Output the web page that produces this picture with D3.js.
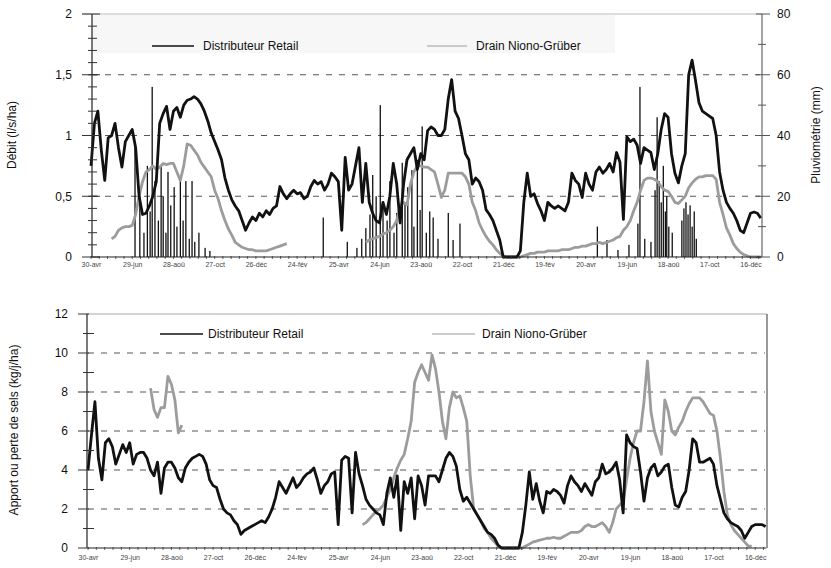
<!DOCTYPE html>
<html>
<head>
<meta charset="utf-8">
<script src="https://cdn.jsdelivr.net/npm/d3@7"></script>
<style>
  body { margin: 0; background: #fff; }
  svg { font-family: "Liberation Sans", Arial, sans-serif; }
</style>
</head>
<body>
<svg id="chart" width="831" height="568"></svg>
<script>
// Sampling step of all series, in days from 30 April (first season)
const STEP = 5;
const TOTAL_DAYS = 976;

// Date labels of the x axis, one every 60 days
const tickLabels = ["30-avr","29-jun","28-aoû","27-oct","26-déc","24-fév","25-avr","24-jun",
  "23-aoû","22-oct","21-déc","19-fév","20-avr","19-jun","18-aoû","17-oct","16-déc"];

// Débit (l/s/ha) — Distributeur Retail, one value every 5 days
const retailFlow = [
  0.75,1.10,1.20,0.88,0.63,0.98,1.00,1.10,0.90,0.74,0.95,1.00,
  1.05,0.90,0.50,0.35,0.36,0.42,0.50,0.62,1.10,1.18,1.24,1.05,
  1.20,1.23,1.15,1.25,1.29,1.30,1.32,1.30,1.26,1.20,1.12,1.02,
  0.95,0.88,0.80,0.65,0.55,0.47,0.42,0.38,0.30,0.22,0.28,0.33,
  0.30,0.36,0.33,0.38,0.35,0.40,0.42,0.58,0.52,0.48,0.52,0.55,
  0.52,0.53,0.48,0.50,0.58,0.63,0.60,0.62,0.55,0.60,0.69,0.66,
  0.62,0.22,0.82,0.55,0.60,0.75,0.90,0.45,0.77,0.45,0.36,0.30,
  0.28,0.45,0.35,0.50,0.77,0.60,0.28,0.60,0.80,0.85,0.90,0.72,
  0.85,0.80,1.04,1.07,1.05,1.00,1.00,1.05,1.30,1.46,1.20,1.14,
  1.00,0.85,0.80,0.60,0.65,0.62,0.55,0.39,0.35,0.30,0.22,0.14,
  0.00,0.00,0.00,0.00,0.00,0.05,0.45,0.69,0.50,0.52,0.44,0.38,
  0.30,0.45,0.42,0.40,0.42,0.40,0.38,0.45,0.69,0.63,0.60,0.49,
  0.69,0.60,0.55,0.70,0.74,0.69,0.72,0.77,0.70,0.86,0.78,0.31,
  0.99,0.95,0.97,0.92,0.77,0.90,0.88,0.86,0.72,0.85,1.05,1.18,
  1.15,0.85,0.69,0.61,0.75,0.85,1.50,1.62,1.45,1.27,1.20,1.18,
  1.16,1.14,1.00,0.70,0.55,0.45,0.40,0.36,0.30,0.22,0.20,0.28,
  0.36,0.37,0.36,0.32
];

// Débit (l/s/ha) — Drain Niono-Grüber (null = no measurement)
const drainFlow = [
  null,null,null,null,null,null,0.15,0.17,0.22,0.24,0.25,0.25,
  0.26,0.35,0.50,0.62,0.70,0.72,0.75,0.72,0.74,0.77,0.76,0.77,
  0.77,0.70,0.63,0.75,0.93,0.92,0.88,0.84,0.78,0.74,0.70,0.66,
  0.55,0.48,0.38,0.30,0.23,0.18,0.12,0.10,0.08,0.07,0.06,0.06,
  0.05,0.05,0.05,0.05,0.06,0.07,0.08,0.09,0.10,0.11,null,null,
  null,null,null,null,null,null,null,null,null,null,null,null,
  null,null,null,null,null,null,null,null,0.12,0.14,0.15,0.16,
  0.17,0.19,0.20,0.22,0.25,0.30,0.42,0.45,0.43,0.60,0.70,0.75,
  0.75,0.74,0.74,0.72,0.70,0.60,0.49,0.55,0.69,0.69,0.69,0.69,
  0.69,0.66,0.60,0.45,0.38,0.28,0.22,0.17,0.13,0.10,0.06,0.03,
  0.01,0.00,0.00,0.00,0.00,0.00,0.01,0.02,0.03,0.03,0.04,0.04,
  0.04,0.05,0.05,0.05,0.05,0.06,0.06,0.06,0.07,0.08,0.08,0.09,
  0.09,0.10,0.11,0.11,0.12,0.11,0.12,0.13,0.14,0.16,0.17,0.22,
  0.25,0.30,0.38,0.45,0.55,0.63,0.65,0.65,0.64,0.62,0.58,0.55,
  0.54,0.50,0.45,0.44,0.47,0.50,0.57,0.61,0.64,0.66,0.66,0.67,
  0.67,0.67,0.64,0.45,0.35,0.24,0.18,0.11,0.07,0.04,0.02,0.01,
  0.00,0.00,0.00,0.00
];

// Pluviométrie (mm): rainy days (day index) and daily rainfall
const rainDay = [64,71,77,82,86,89,93,98,102,105,109,112,116,121,125,130,134,138,143,147,151,157,166,173,
  338,373,387,394,400,406,410,415,421,425,431,435,441,445,453,457,461,467,470,475,479,482,488,493,498,505,520,527,537,
  737,751,767,783,796,799,806,815,821,824,827,830,833,836,838,841,846,860,863,866,869,872,875,878,881];
const rainMm = [38,20,8,30,15,56,25,12,30,20,8,28,17,23,10,25,12,25,6,25,5,8,3,2,
  13,5,3,6,9.5,14,27,20,50,16,12,25,8,14.5,31,18,23,28.6,10,32,15.5,43,8,15,13,6,14.5,5.6,11,
  10,5.6,2.3,4,11,56,6,5,22,46,25,18,30,15,20,10,8,12,16,18,14,17,10,15,6];

// Apport ou perte de sels (kg/j/ha) — Distributeur Retail
const saltRetail = [
  4.0,5.8,7.5,4.6,3.5,5.4,5.6,5.2,4.3,4.8,5.3,4.9,
  5.4,4.3,4.8,4.9,4.9,4.6,4.0,3.7,4.4,2.8,4.1,4.4,
  4.4,4.1,3.6,3.4,4.1,4.4,4.6,4.7,4.8,4.7,4.3,3.5,
  3.2,3.1,2.5,2.0,1.8,1.7,1.4,1.2,0.7,0.9,1.0,1.1,
  1.2,1.3,1.4,1.3,1.6,2.0,2.6,3.4,3.1,2.8,3.2,3.6,
  3.1,3.3,3.6,3.8,3.9,4.1,3.5,2.8,3.2,3.4,3.8,3.9,
  1.2,4.5,4.7,4.6,1.8,4.9,3.8,3.2,2.5,2.2,2.0,1.8,
  1.7,1.2,2.8,3.6,2.6,3.7,0.9,3.4,2.8,3.6,1.5,3.7,
  3.2,2.2,3.7,3.7,3.7,3.4,4.0,4.6,4.9,4.7,4.2,3.0,
  2.4,2.6,2.3,2.0,1.7,1.4,1.1,0.8,0.7,0.5,0.15,0.0,
  0.0,0.0,0.0,0.0,0.0,0.8,2.2,3.9,2.5,3.3,2.4,1.8,
  2.9,2.8,3.0,2.9,2.7,2.3,3.2,3.7,3.4,3.2,2.9,3.3,
  3.0,2.7,3.4,3.6,4.3,3.8,3.9,4.1,4.4,3.5,1.8,5.8,
  5.4,5.2,5.1,3.9,2.4,3.6,4.1,4.3,3.7,3.9,4.2,4.3,
  3.1,2.2,2.1,2.6,2.9,4.0,5.6,5.4,4.4,4.4,4.5,4.6,
  4.3,3.2,2.5,1.8,1.5,1.3,1.2,1.1,0.9,0.5,0.8,1.1,
  1.2,1.2,1.2,1.1
];

// Apport ou perte de sels (kg/j/ha) — Drain Niono-Grüber
const saltDrain = [
  null,null,null,null,null,null,null,null,null,null,null,null,
  null,null,null,null,null,null,8.2,7.1,6.7,7.2,7.2,8.8,
  8.4,7.6,5.9,6.3,null,null,null,null,null,null,null,null,
  null,null,null,null,null,null,null,null,null,null,null,null,
  null,null,null,null,null,null,null,null,null,null,null,null,
  null,null,null,null,null,null,null,null,null,null,null,null,
  null,null,null,null,null,null,null,1.2,1.3,1.5,1.7,1.9,
  2.0,2.2,2.6,3.0,3.6,4.1,4.5,4.8,5.6,6.5,8.5,9.0,
  9.4,9.0,8.6,9.9,9.2,8.0,6.5,5.6,7.2,8.0,7.7,7.8,
  7.2,6.5,3.7,2.0,1.7,1.4,1.0,0.8,0.5,0.3,0.1,0.0,
  0.0,0.0,0.0,0.0,0.0,0.0,0.1,0.2,0.3,0.35,0.4,0.45,
  0.5,0.5,0.55,0.5,0.5,0.6,0.7,0.8,0.8,0.8,0.9,1.1,
  1.2,1.1,1.1,1.2,1.3,1.1,0.8,1.3,2.0,2.2,2.4,3.5,
  4.6,5.4,6.0,6.0,7.5,9.6,7.0,6.0,5.4,4.8,7.6,7.0,
  6.0,5.8,6.2,6.5,7.0,7.4,7.7,7.7,7.7,7.5,7.2,6.9,
  6.8,6.0,4.6,2.9,1.7,1.2,0.9,0.7,0.5,0.3,0.1,0.1,
  null,null,null,null
];

const svg = d3.select("#chart");
const BLACK = "#111";
const GREY = "#9c9c9c";
const tickDays = tickLabels.map((_, i) => i * 60);
const toPoints = arr => arr.map((v, i) => ({ day: i * STEP, v }));
const fmtComma = d => String(d).replace(".", ",");

function dashedGrid(g, x0, x1, ys) {
  g.selectAll(null).data(ys).join("line")
    .attr("x1", x0).attr("x2", x1).attr("y1", d => d).attr("y2", d => d)
    .attr("stroke", "#555").attr("stroke-width", 1).attr("stroke-dasharray", "6,7");
}

function crossTicks(g, x, ys, left, right, color) {
  g.selectAll(null).data(ys).join("line")
    .attr("x1", x - left).attr("x2", x + right).attr("y1", d => d).attr("y2", d => d)
    .attr("stroke", color).attr("stroke-width", 1);
}

function xAxis(g, x, y0, labelY) {
  // minor ticks on the time axis
  g.selectAll(null).data(d3.range(0, TOTAL_DAYS, 12)).join("line")
    .attr("x1", d => x(d)).attr("x2", d => x(d)).attr("y1", y0 - 1).attr("y2", y0 + 2)
    .attr("stroke", "#444").attr("stroke-width", 0.8);
  const ax = d3.axisBottom(x).tickValues(tickDays).tickSize(0).tickPadding(0)
    .tickFormat((d, i) => tickLabels[i]);
  const a = g.append("g").attr("transform", `translate(0,${labelY})`).call(ax);
  a.select(".domain").remove();
  a.selectAll("text").attr("font-size", 7).attr("fill", "#444").attr("dy", 0)
    .attr("font-family", "Liberation Sans, Arial, sans-serif");
  g.append("line").attr("x1", x(0)).attr("x2", x(TOTAL_DAYS)).attr("y1", y0).attr("y2", y0)
    .attr("stroke", "#222").attr("stroke-width", 1.2);
}

function legend(g, y, items) {
  items.forEach(it => {
    g.append("line").attr("x1", it.x0).attr("x2", it.x1).attr("y1", y).attr("y2", y)
      .attr("stroke", it.color).attr("stroke-width", it.w);
    g.append("text").attr("x", it.tx).attr("y", y + 4).attr("font-size", 12).attr("fill", "#111")
      .text(it.label);
  });
}

/* ---------------- Top panel: débit and pluviométrie ---------------- */
{
  const g = svg.append("g");
  const x = d3.scaleLinear().domain([0, TOTAL_DAYS]).range([91, 761.5]);
  const y = d3.scaleLinear().domain([0, 2]).range([257, 14]);
  const yR = d3.scaleLinear().domain([0, 80]).range([257, 14]);

  g.append("rect").attr("x", 92).attr("y", 15).attr("width", 523).attr("height", 38).attr("fill", "#f7f7f7");
  g.append("line").attr("x1", 82).attr("x2", 762).attr("y1", 14).attr("y2", 14).attr("stroke", "#bbb");
  dashedGrid(g, 92, 760, [0.5, 1, 1.5].map(y));

  // rainfall columns
  g.selectAll(null).data(rainDay.map((d, i) => ({ day: d, mm: rainMm[i] }))).join("rect")
    .attr("x", d => x(d.day) - 0.6).attr("width", 1.3)
    .attr("y", d => yR(d.mm)).attr("height", d => yR(0) - yR(d.mm))
    .attr("fill", BLACK);

  const line = d3.line().defined(d => d.v !== null).x(d => x(d.day)).y(d => y(d.v));
  g.append("path").datum(toPoints(drainFlow)).attr("d", line)
    .attr("fill", "none").attr("stroke", GREY).attr("stroke-width", 2.8).attr("stroke-linejoin", "round");
  g.append("path").datum(toPoints(retailFlow)).attr("d", line)
    .attr("fill", "none").attr("stroke", BLACK).attr("stroke-width", 2.8).attr("stroke-linejoin", "round");

  // left axis
  g.append("line").attr("x1", 92).attr("x2", 92).attr("y1", 14).attr("y2", 257).attr("stroke", "#222").attr("stroke-width", 1.2);
  crossTicks(g, 92, d3.range(0.1, 2, 0.1).map(y), 4, 5, "#333");
  crossTicks(g, 92, [0, 0.5, 1, 1.5, 2].map(y), 10, 8, "#333");
  const la = g.append("g").attr("transform", "translate(92,0)")
    .call(d3.axisLeft(y).tickValues([0, 0.5, 1, 1.5, 2]).tickSize(0).tickPadding(20).tickFormat(fmtComma));
  la.select(".domain").remove();
  la.selectAll("text").attr("font-size", 12).attr("fill", "#111").attr("font-family", "Liberation Sans, Arial, sans-serif");

  // right axis (rainfall)
  g.append("line").attr("x1", 762).attr("x2", 762).attr("y1", 14).attr("y2", 257).attr("stroke", "#666").attr("stroke-width", 1.2);
  crossTicks(g, 762, [10, 30, 50, 70].map(yR), 4, 4, "#555");
  crossTicks(g, 762, [0, 20, 40, 60, 80].map(yR), 6, 8, "#555");
  const ra = g.append("g").attr("transform", "translate(762,0)")
    .call(d3.axisRight(yR).tickValues([0, 20, 40, 60, 80]).tickSize(0).tickPadding(15));
  ra.select(".domain").remove();
  ra.selectAll("text").attr("font-size", 12).attr("fill", "#111").attr("font-family", "Liberation Sans, Arial, sans-serif");

  xAxis(g, x, 257, 267);

  legend(g, 46, [
    { x0: 152, x1: 194, tx: 203, color: BLACK, w: 1.5, label: "Distributeur Retail" },
    { x0: 427, x1: 467, tx: 476, color: "#bbb", w: 1.5, label: "Drain Niono-Grüber" }
  ]);

  g.append("text").attr("transform", "translate(16,135) rotate(-90)").attr("text-anchor", "middle")
    .attr("font-size", 12).attr("fill", "#111").text("Débit (l/s/ha)");
  g.append("text").attr("transform", "translate(820,135) rotate(-90)").attr("text-anchor", "middle")
    .attr("font-size", 12).attr("fill", "#111").text("Pluviométrie (mm)");
}

/* ---------------- Bottom panel: bilan de sels ---------------- */
{
  const g = svg.append("g");
  const x = d3.scaleLinear().domain([0, TOTAL_DAYS]).range([88, 766.3]);
  const y = d3.scaleLinear().domain([0, 12]).range([548, 314]);

  g.append("line").attr("x1", 87).attr("x2", 767).attr("y1", 314).attr("y2", 314).attr("stroke", "#aaa");
  g.append("line").attr("x1", 767).attr("x2", 767).attr("y1", 314).attr("y2", 548).attr("stroke", "#555").attr("stroke-width", 1.2);
  dashedGrid(g, 88, 765, [2, 4, 6, 8, 10].map(y));

  const line = d3.line().defined(d => d.v !== null).x(d => x(d.day)).y(d => y(d.v));
  g.append("path").datum(toPoints(saltDrain)).attr("d", line)
    .attr("fill", "none").attr("stroke", GREY).attr("stroke-width", 2.8).attr("stroke-linejoin", "round");
  g.append("path").datum(toPoints(saltRetail)).attr("d", line)
    .attr("fill", "none").attr("stroke", BLACK).attr("stroke-width", 2.8).attr("stroke-linejoin", "round");

  g.append("line").attr("x1", 87).attr("x2", 87).attr("y1", 314).attr("y2", 548).attr("stroke", "#222").attr("stroke-width", 1.2);
  crossTicks(g, 87, [1, 3, 5, 7, 9, 11].map(y), 4, 7, "#333");
  crossTicks(g, 87, [0, 2, 4, 6, 8, 10, 12].map(y), 9, 2, "#333");
  const la = g.append("g").attr("transform", "translate(87,0)")
    .call(d3.axisLeft(y).tickValues([0, 2, 4, 6, 8, 10, 12]).tickSize(0).tickPadding(19));
  la.select(".domain").remove();
  la.selectAll("text").attr("font-size", 12).attr("fill", "#111").attr("font-family", "Liberation Sans, Arial, sans-serif");

  xAxis(g, x, 548, 560);

  legend(g, 334, [
    { x0: 160, x1: 203, tx: 208, color: BLACK, w: 1.5, label: "Distributeur Retail" },
    { x0: 432, x1: 475, tx: 482, color: "#bbb", w: 1.5, label: "Drain Niono-Grüber" }
  ]);

  g.append("text").attr("transform", "translate(18,430) rotate(-90)").attr("text-anchor", "middle")
    .attr("font-size", 12).attr("fill", "#111").text("Apport ou perte de sels (kg/j/ha)");
}
</script>
</body>
</html>
